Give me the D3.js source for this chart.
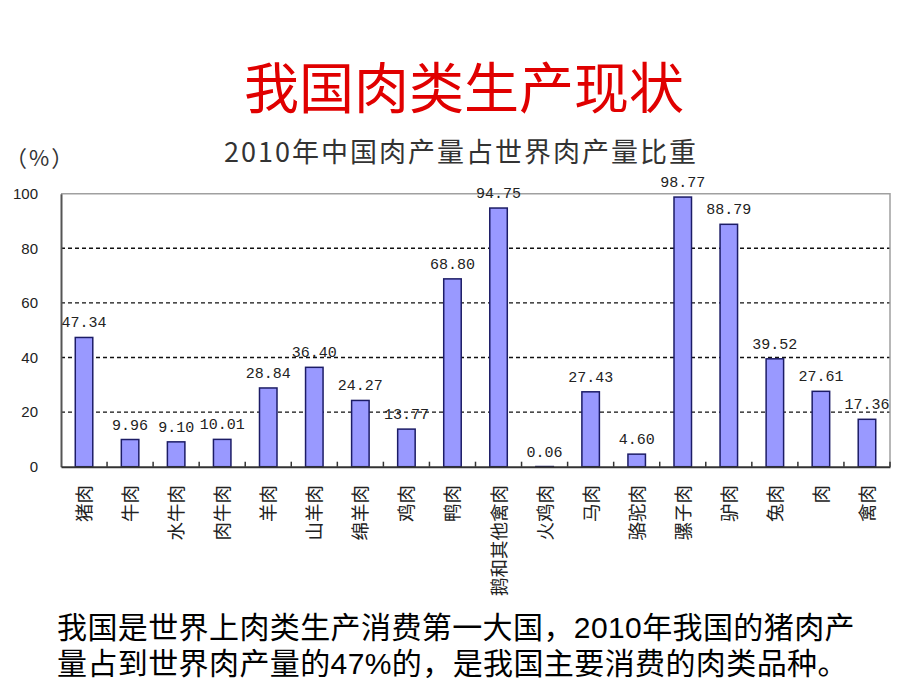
<!DOCTYPE html>
<html>
<head>
<meta charset="utf-8">
<script src="https://cdn.jsdelivr.net/npm/d3@7"></script>
<style>
  html, body { margin: 0; padding: 0; background: #fff; }
  svg { display: block; }
</style>
</head>
<body>
<script>
const heading = "我国肉类生产现状";
const chartTitle = "2010年中国肉产量占世界肉产量比重";
const unitLabel = "（%）";
const categories = ["猪肉","牛肉","水牛肉","肉牛肉","羊肉","山羊肉","绵羊肉","鸡肉","鸭肉","鹅和其他禽肉","火鸡肉","马肉","骆驼肉","骡子肉","驴肉","兔肉","肉","禽肉"];
const values = [47.34, 9.96, 9.10, 10.01, 28.84, 36.40, 24.27, 13.77, 68.80, 94.75, 0.06, 27.43, 4.60, 98.77, 88.79, 39.52, 27.61, 17.36];
const yTicks = [0, 20, 40, 60, 80, 100];
const bodyLines = [
  "我国是世界上肉类生产消费第一大国，2010年我国的猪肉产",
  "量占到世界肉产量的47%的，是我国主要消费的肉类品种。"
];

const W = 920, H = 690;
const svg = d3.select("body").append("svg").attr("width", W).attr("height", H);
const CJK = "'Noto Sans CJK SC', 'Noto Sans', sans-serif";
const MIX = "'Liberation Sans', 'Noto Sans CJK SC', sans-serif";

// Heading
svg.append("text")
  .attr("x", 464).attr("y", 108)
  .attr("text-anchor", "middle")
  .attr("font-family", CJK)
  .attr("font-size", 55)
  .attr("fill", "#e00000")
  .text(heading);

// Chart title
svg.append("text")
  .attr("x", 461).attr("y", 162)
  .attr("text-anchor", "middle")
  .attr("font-family", CJK)
  .attr("font-size", 27)
  .attr("letter-spacing", 2)
  .attr("fill", "#333")
  .text(chartTitle);

svg.append("text")
  .attr("x", 5).attr("y", 166)
  .attr("font-family", CJK)
  .attr("font-size", 22)
  .attr("letter-spacing", 2)
  .attr("fill", "#333")
  .text(unitLabel);

// Plot
const x0 = 61, x1 = 890, yBase = 466.7, yTop = 193.7;
const x = d3.scaleBand().domain(categories).range([x0, x1]).padding(0);
const y = d3.scaleLinear().domain([0, 100]).range([yBase, yTop]);

// gridlines
svg.append("g").selectAll("line")
  .data(yTicks.filter(t => t > 0 && t < 100))
  .join("line")
  .attr("x1", x0).attr("x2", x1)
  .attr("y1", d => y(d)).attr("y2", d => y(d))
  .attr("stroke", "#111").attr("stroke-width", 1.4)
  .attr("stroke-dasharray", "4,3");

// top & right border
svg.append("path")
  .attr("d", `M${x0},${y(100)}H${x1}V${yBase}`)
  .attr("fill", "none").attr("stroke", "#a0a0a0").attr("stroke-width", 1.5);

// Y axis
const yAxis = d3.axisLeft(y).tickValues(yTicks).tickSize(0).tickPadding(23);
const gy = svg.append("g").attr("transform", `translate(${x0},0)`).call(yAxis);
gy.select(".domain").attr("stroke", "#555").attr("stroke-width", 2);
gy.selectAll("text")
  .attr("font-family", "'Liberation Sans', Arial, sans-serif")
  .attr("font-size", 15).attr("fill", "#222");

// Bars
const bw = x.bandwidth() * 0.38;
svg.append("g").selectAll("rect")
  .data(values)
  .join("rect")
  .attr("x", (d, i) => x(categories[i]) + x.bandwidth() / 2 - bw / 2)
  .attr("y", d => y(d))
  .attr("width", bw)
  .attr("height", d => yBase - y(d))
  .attr("fill", "#9999ff")
  .attr("stroke", "#1c1c66")
  .attr("stroke-width", 1.5);

// Value labels
svg.append("g").selectAll("text")
  .data(values)
  .join("text")
  .attr("x", (d, i) => x(categories[i]) + x.bandwidth() / 2)
  .attr("y", d => y(d) - 10)
  .attr("text-anchor", "middle")
  .attr("font-family", "'Liberation Mono', 'DejaVu Sans Mono', monospace")
  .attr("font-size", 15)
  .attr("fill", "#222")
  .text(d => d.toFixed(2));

// X axis with inner ticks at category boundaries
const xAxis = d3.axisBottom(x).tickSize(0).tickFormat("");
const gx = svg.append("g").attr("transform", `translate(0,${yBase})`).call(xAxis);
gx.select(".domain").attr("stroke", "#333").attr("stroke-width", 2);
gx.selectAll(".tick").remove();
svg.append("g").selectAll("line")
  .data(categories.slice(1).concat([null]))
  .join("line")
  .attr("x1", d => d === null ? x1 : x(d))
  .attr("x2", d => d === null ? x1 : x(d))
  .attr("y1", yBase).attr("y2", yBase - 5)
  .attr("stroke", "#333").attr("stroke-width", 1.5);

// X labels (rotated)
svg.append("g").selectAll("text")
  .data(categories)
  .join("text")
  .attr("transform", d => `translate(${x(d) + x.bandwidth() / 2 - 1},485) rotate(-90)`)
  .attr("text-anchor", "end")
  .attr("dominant-baseline", "central")
  .attr("font-family", CJK)
  .attr("font-size", 18.5)
  .attr("fill", "#222")
  .text(d => d);

// Body text
svg.append("g").selectAll("text")
  .data(bodyLines)
  .join("text")
  .attr("x", 57)
  .attr("y", (d, i) => 638 + i * 36)
  .attr("font-family", MIX)
  .attr("font-size", 30)
  .attr("letter-spacing", 0.4)
  .attr("fill", "#000")
  .text(d => d);
</script>
</body>
</html>
